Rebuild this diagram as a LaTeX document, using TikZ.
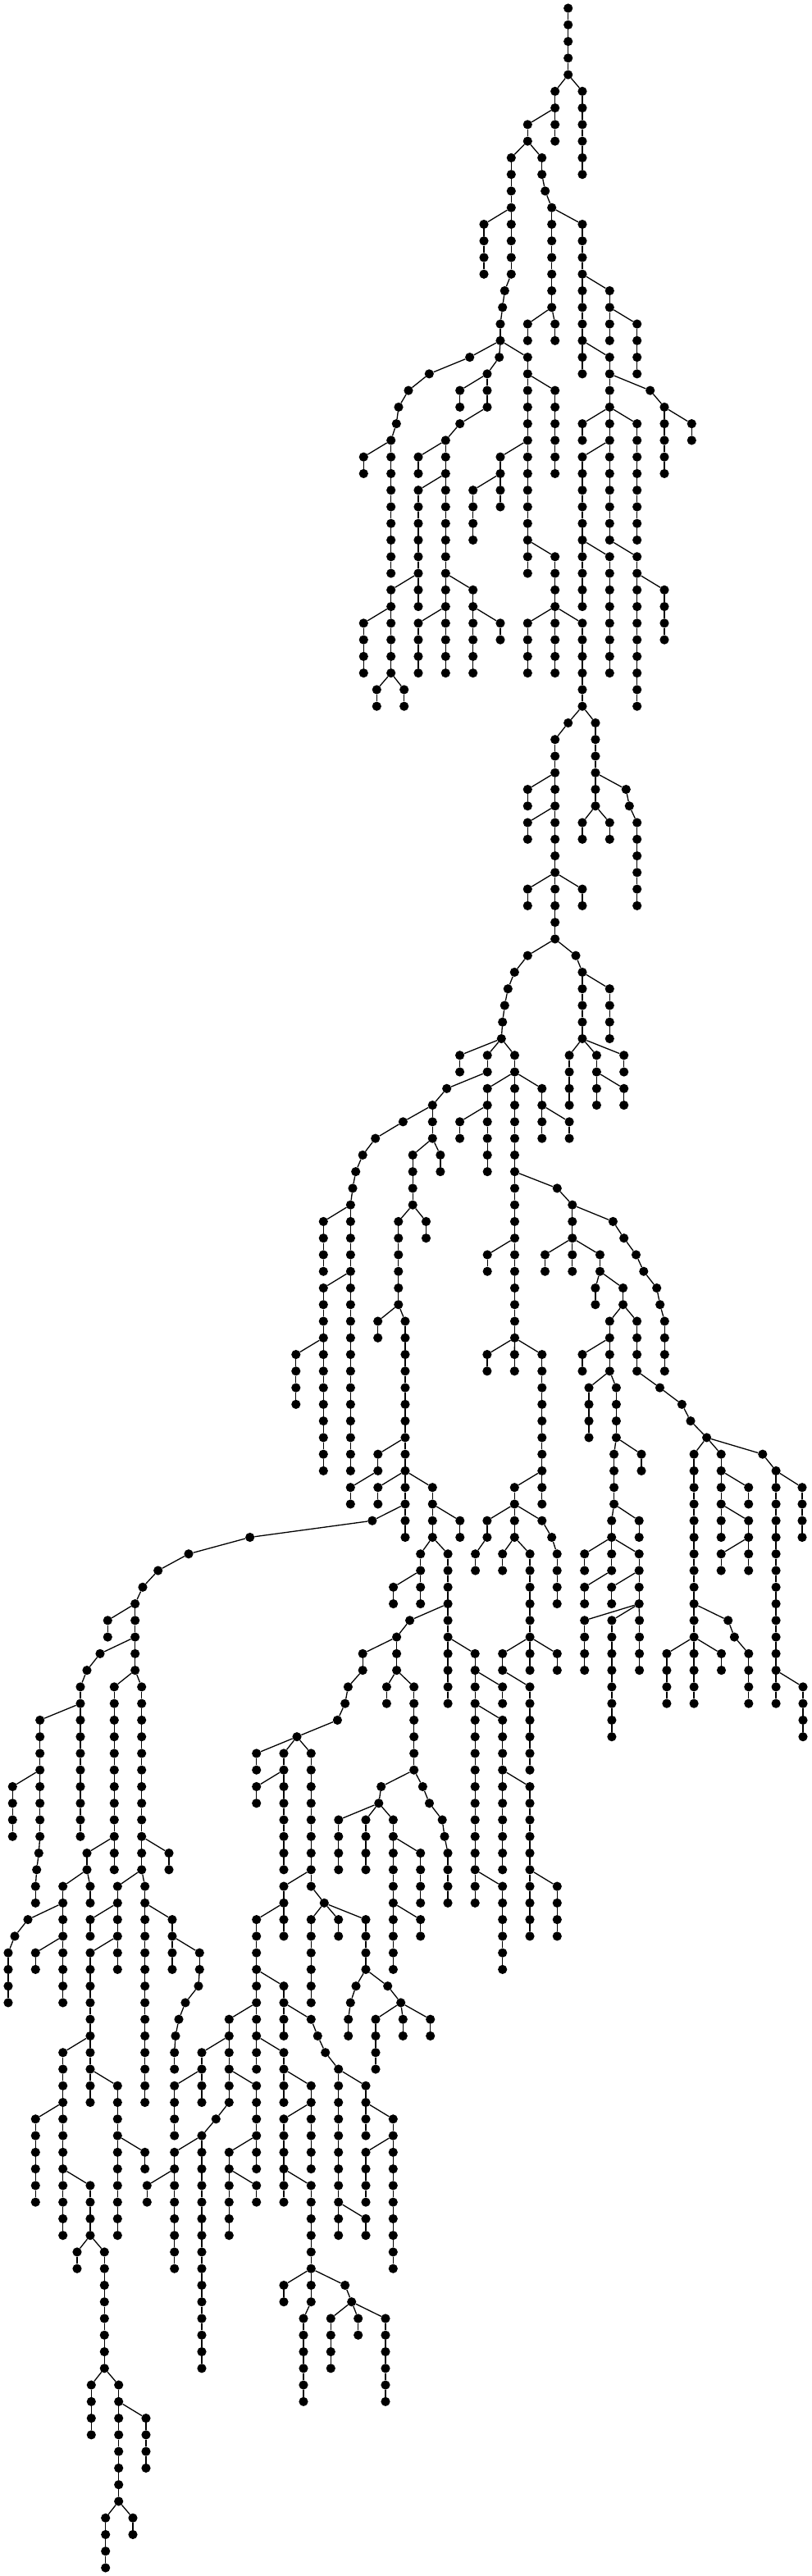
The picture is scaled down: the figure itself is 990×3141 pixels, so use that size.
\documentclass[tikz,border=0pt]{standalone}
\tikzset{
  dot/.style={circle,fill=black,draw=none,inner sep=0pt,minimum size=11.2pt},
  edge/.style={draw=black,line width=1.3pt}
}
% chain name, parent chain, x, first level, last level
\newcommand\chn[5]{%
  \foreach \lv in {#4,...,#5}{%
    \pgfmathtruncatemacro\prevlv{\lv-1}%
    \node[dot] (#1-\lv) at (#3,{10+20.266*\lv}) {};%
    \ifnum\lv=#4\relax
      \draw[edge] (#2-\prevlv) -- (#1-\lv);%
    \else
      \draw[edge] (#1-\prevlv) -- (#1-\lv);%
    \fi
  }%
}
\begin{document}
\begin{tikzpicture}[x=1pt,y=-1pt]
\fill[white] (0,0) rectangle (990,3141);
\useasboundingbox (0,0) rectangle (990,3141);
\node[dot] (r-0) at (692.7,10) {};
\chn{r}{r}{692.7}{1}{4}
\chn{a}{r}{676.7}{5}{8}
\chn{b}{r}{710}{5}{10}
\chn{c}{a}{643.3}{7}{8}
\chn{d}{c}{623.3}{9}{16}
\chn{d}{d}{615.3}{17}{17}
\chn{d}{d}{612.7}{18}{18}
\chn{d}{d}{610}{19}{20}
\chn{e}{c}{660.7}{9}{10}
\chn{e}{e}{664.7}{11}{11}
\chn{e}{e}{672.7}{12}{18}
\chn{f}{d}{590}{13}{16}
\chn{g}{e}{710}{13}{22}
\chn{h}{e}{643.3}{19}{20}
\chn{i}{e}{676.7}{19}{20}
\chn{j}{g}{743.3}{17}{20}
\chn{k}{j}{776.7}{19}{22}
\chn{l}{g}{743.3}{21}{24}
\chn{m}{l}{792.7}{23}{23}
\chn{m}{m}{810}{24}{28}
\chn{n}{m}{843.3}{25}{26}
\chn{o}{l}{710}{25}{26}
\chn{p}{l}{743.3}{25}{32}
\chn{q}{l}{776.7}{25}{32}
\chn{s}{p}{710}{27}{36}
\chn{t}{s}{743.3}{33}{40}
\chn{u}{p}{776.7}{33}{42}
\chn{v}{u}{810}{35}{38}
% left of level 20
\chn{aa}{d}{572.7}{21}{21}
\chn{aa}{aa}{523.3}{22}{22}
\chn{aa}{aa}{498}{23}{23}
\chn{aa}{aa}{486}{24}{24}
\chn{aa}{aa}{483.3}{25}{25}
\chn{aa}{aa}{476.7}{26}{34}
\chn{ab}{aa}{443.3}{27}{28}
\chn{ac}{d}{608.7}{21}{21}
\chn{ac}{ac}{594}{22}{24}
\chn{ad}{ac}{560.7}{23}{24}
\chn{ae}{ac}{560.7}{25}{25}
\chn{ae}{ae}{543.3}{26}{40}
\chn{af}{ae}{510}{27}{28}
\chn{ag}{ae}{510}{29}{36}
\chn{ah}{ag}{476.7}{35}{40}
\chn{ai}{ah}{443.3}{37}{40}
\chn{aj}{ah}{459.3}{41}{42}
\chn{ak}{ah}{492.7}{41}{42}
\chn{al}{ae}{576.7}{35}{40}
\chn{am}{ae}{510}{37}{40}
\chn{an}{al}{610}{37}{38}
\chn{ao}{d}{643.3}{21}{34}
\chn{ap}{ao}{676.7}{23}{28}
\chn{aq}{ao}{610}{27}{30}
\chn{ar}{aq}{576.7}{29}{32}
\chn{as}{ao}{676.7}{33}{40}
\chn{at}{as}{643.3}{37}{40}
\chn{au}{as}{710}{37}{42}
% levels 43-62
\chn{av}{au}{692.7}{43}{43}
\chn{av}{av}{676.7}{44}{56}
\chn{aw}{av}{643.3}{47}{48}
\chn{ax}{av}{643.3}{49}{50}
\chn{ay}{av}{643.3}{53}{54}
\chn{az}{av}{710}{53}{54}
\chn{ba}{au}{726}{43}{48}
\chn{bb}{ba}{710}{49}{50}
\chn{bc}{ba}{743.3}{49}{50}
\chn{bd}{ba}{763.3}{47}{47}
\chn{bd}{bd}{767.3}{48}{48}
\chn{bd}{bd}{776.7}{49}{54}
\chn{be}{av}{643.3}{57}{57}
\chn{be}{be}{627.3}{58}{58}
\chn{be}{be}{619.3}{59}{59}
\chn{be}{be}{615.3}{60}{60}
\chn{be}{be}{612.7}{61}{61}
\chn{be}{be}{611.3}{62}{62}
\chn{bf}{av}{702}{57}{57}
\chn{bf}{bf}{710}{58}{62}
\chn{bg}{bf}{743.3}{59}{62}
% levels 63-
\chn{bh}{be}{560.6}{63}{64}
\chn{bi}{be}{594.2}{63}{64}
\chn{bj}{be}{627.5}{63}{80}
\chn{bk}{bf}{694.1}{63}{66}
\chn{bl}{bf}{727.4}{63}{66}
\chn{bm}{bf}{760.7}{63}{64}
\chn{bn}{bl}{760.7}{65}{66}
\chn{bo}{bi}{544.7}{65}{65}
\chn{bo}{bo}{527.3}{66}{68}
\chn{bp}{bo}{491.4}{67}{67}
\chn{bp}{bp}{457.7}{68}{68}
\chn{bp}{bp}{442.2}{69}{69}
\chn{bp}{bp}{433.7}{70}{70}
\chn{bp}{bp}{430}{71}{71}
\chn{bp}{bp}{427.4}{72}{88}
\chn{bq}{bp}{394.3}{73}{76}
\chn{br}{bp}{394.3}{77}{88}
\chn{bs}{br}{360.8}{81}{84}
\chn{bt}{bo}{503.2}{69}{72}
\chn{bu}{bo}{536.9}{69}{70}
\chn{bv}{bt}{485.8}{73}{78}
\chn{bw}{bt}{519.5}{73}{74}
\chn{bx}{bv}{460.7}{79}{80}
\chn{by}{bv}{494}{79}{92}
\chn{bz}{by}{460.8}{87}{88}
\chn{ca}{bz}{427.3}{89}{90}
\chn{cb}{by}{460.8}{89}{90}
\chn{cc}{by}{527.3}{89}{92}
\chn{cd}{cc}{560.8}{91}{92}
\chn{cf}{cc}{512.7}{93}{96}
\chn{cg}{cf}{479.6}{95}{96}
\chn{ch}{cc}{546.1}{93}{102}
\chn{ci}{ch}{499.6}{97}{97}
\chn{ci}{ci}{483.6}{98}{100}
\chn{cj}{ci}{442.2}{99}{100}
\chn{cj}{cj}{424.4}{101}{101}
\chn{cj}{cj}{420.7}{102}{102}
\chn{cj}{cj}{411.4}{103}{103}
\chn{cj}{cj}{362}{104}{104}
\chn{ck}{ci}{471.4}{101}{102}
\chn{cl}{ci}{504.7}{101}{106}
\chn{cm}{cl}{464.7}{107}{107}
\chn{cm}{cm}{461.8}{108}{108}
\chn{cn}{cm}{412.8}{109}{112}
\chn{co}{cm}{446}{109}{112}
\chn{cp}{cm}{479.4}{109}{118}
\chn{cq}{cp}{512.7}{111}{114}
\chn{cr}{cp}{512.7}{115}{116}
\chn{cs}{cl}{515.4}{107}{107}
\chn{cs}{cs}{523.5}{108}{108}
\chn{cs}{cs}{539.2}{109}{109}
\chn{cs}{cs}{542}{110}{110}
\chn{cs}{cs}{546}{111}{114}
\chn{ct}{ch}{579.2}{99}{114}
\chn{cu}{ct}{612.7}{101}{102}
\chn{cv}{ct}{612.7}{103}{112}
\chn{cw}{ct}{612.7}{113}{118}
\chn{cx}{cv}{646}{107}{116}
\chn{cy}{cx}{679.3}{113}{116}
% centre-right
\chn{da}{bj}{594.2}{65}{70}
\chn{db}{da}{560.6}{67}{68}
\chn{dc}{bj}{660.8}{65}{68}
\chn{dd}{dc}{694.1}{67}{68}
\chn{de}{bj}{679.3}{71}{71}
\chn{de}{de}{697.8}{72}{76}
\chn{df}{bj}{594.2}{75}{76}
\chn{dg}{de}{664.5}{75}{76}
\chn{dh}{de}{731.5}{75}{76}
\chn{di}{dh}{725.9}{77}{78}
\chn{dj}{dh}{759.6}{77}{78}
\chn{dk}{dj}{743.3}{79}{80}
\chn{dl}{dj}{776.6}{79}{82}
\chn{dm}{dk}{710}{81}{82}
\chn{dn}{dk}{743.3}{81}{82}
\chn{do}{de}{747.4}{73}{73}
\chn{do}{do}{760.7}{74}{74}
\chn{do}{do}{775.5}{75}{75}
\chn{do}{do}{784.8}{76}{76}
\chn{do}{do}{800.7}{77}{77}
\chn{do}{do}{804.7}{78}{78}
\chn{do}{do}{810.3}{79}{82}
\chn{ea}{bj}{593.9}{81}{82}
\chn{eb}{bj}{627.3}{81}{82}
\chn{ec}{bj}{660.8}{81}{90}
\chn{ed}{ec}{627.3}{89}{92}
\chn{ee}{ed}{593.9}{91}{92}
\chn{ef}{ed}{660.8}{91}{91}
\chn{ef}{ef}{672.7}{92}{92}
\chn{ef}{ef}{679.2}{93}{96}
\chn{eg}{ee}{579.6}{93}{94}
\chn{eh}{ed}{612.7}{93}{94}
\chn{ei}{ed}{646.1}{93}{100}
\chn{ej}{ei}{612.7}{99}{100}
\chn{ek}{ei}{679.3}{99}{100}
\chn{el}{ej}{646}{101}{106}
\chn{em}{dn}{718}{83}{86}
\chn{en}{dn}{751.4}{83}{86}
\chn{eo}{en}{748.6}{87}{90}
\chn{ep}{en}{782}{87}{88}
\chn{eq}{eo}{745.7}{91}{94}
\chn{er}{eo}{779.2}{91}{92}
\chn{es}{eq}{712.7}{93}{94}
\chn{et}{eq}{779.2}{93}{96}
\chn{eu}{eq}{712.7}{95}{96}
\chn{ev}{et}{745.7}{95}{96}
\chn{ew}{et}{712.7}{97}{100}
\chn{ex}{et}{745.9}{97}{104}
\chn{ey}{et}{779.6}{97}{100}
\chn{ez}{dl}{804.5}{83}{83}
\chn{ez}{ez}{831.4}{84}{84}
\chn{ez}{ez}{842}{85}{85}
\chn{ez}{ez}{861.6}{86}{86}
\chn{fa}{ez}{846.1}{87}{102}
\chn{fb}{fa}{812.9}{99}{102}
\chn{fc}{fa}{879.5}{99}{100}
\chn{fd}{fa}{887.7}{97}{97}
\chn{fd}{fd}{895.4}{98}{98}
\chn{fd}{fd}{912.8}{99}{102}
\chn{fe}{ez}{879.2}{87}{92}
\chn{ff}{fe}{912.7}{89}{90}
\chn{fg}{fe}{912.7}{91}{94}
\chn{fh}{fg}{879.2}{93}{94}
\chn{fi}{ez}{929.8}{87}{87}
\chn{fi}{fi}{946.1}{88}{102}
\chn{fj}{fi}{978}{89}{92}
\chn{fk}{fi}{979}{101}{104}
% long left branch
\chn{ce}{by}{453.9}{91}{91}
\chn{ce}{ce}{304.7}{92}{92}
\chn{ce}{ce}{230}{93}{93}
\chn{ce}{ce}{192.7}{94}{94}
\chn{ce}{ce}{174}{95}{95}
\chn{ce}{ce}{164.7}{96}{100}
\chn{ga}{ce}{131.3}{97}{98}
\chn{gb}{ce}{122}{99}{99}
\chn{gb}{gb}{106}{100}{100}
\chn{gb}{gb}{98}{101}{110}
\chn{gc}{gb}{48.7}{103}{110}
\chn{gc}{gc}{47.3}{111}{111}
\chn{gc}{gc}{44.7}{112}{112}
\chn{gc}{gc}{43.3}{113}{114}
\chn{gd}{gc}{15.3}{107}{110}
\chn{ge}{ce}{139.3}{101}{112}
\chn{gf}{ce}{172.7}{101}{112}
\chn{gg}{ge}{106}{111}{112}
\chn{gh}{gg}{76.7}{113}{120}
\chn{gi}{gg}{110}{113}{114}
\chn{gj}{gf}{206}{111}{112}
\chn{gk}{gf}{143.3}{113}{118}
\chn{gl}{gf}{176.7}{113}{126}
\chn{gm}{gh}{34}{115}{115}
\chn{gm}{gm}{18}{116}{116}
\chn{gm}{gm}{10}{117}{120}
\chn{gn}{gh}{43.3}{117}{118}
\chn{go}{gk}{110}{115}{116}
\chn{gp}{gk}{110}{117}{124}
\chn{gq}{gp}{76.7}{123}{134}
\chn{gr}{gp}{110}{125}{126}
\chn{gs}{gp}{143.3}{125}{134}
\chn{gt}{gs}{176.7}{129}{130}
\chn{gu}{gq}{43.3}{127}{132}
\chn{gv}{gq}{110}{131}{134}
\chn{gw}{gv}{94}{135}{136}
\chn{gx}{gv}{127.3}{135}{142}
\chn{gy}{gx}{111.3}{143}{146}
\chn{gz}{gx}{144.7}{143}{150}
\chn{ha}{gz}{178}{145}{148}
\chn{hb}{gz}{128.7}{151}{154}
\chn{hc}{gz}{162}{151}{152}
\chn{hd}{gl}{210}{115}{118}
\chn{he}{hd}{243.3}{117}{118}
\chn{he}{he}{242}{119}{119}
\chn{he}{he}{226}{120}{120}
\chn{he}{he}{218}{121}{121}
\chn{he}{he}{214}{122}{122}
\chn{he}{he}{212.7}{123}{124}
% subtree under cj-104
\chn{ia}{cj}{312.7}{105}{106}
\chn{ib}{cj}{346}{105}{112}
\chn{ic}{cj}{379.3}{105}{113}
\chn{id}{ib}{312.7}{107}{108}
\chn{ie}{ic}{346}{113}{116}
\chn{ic}{ic}{395.3}{114}{114}
\chn{if}{ie}{312.7}{115}{124}
\chn{ig}{if}{346}{119}{122}
\chn{ih}{if}{279.3}{121}{126}
\chn{ih}{ih}{263.3}{127}{127}
\chn{ih}{ih}{246}{128}{142}
\chn{ii}{ih}{246}{123}{126}
\chn{ij}{ii}{212.7}{125}{128}
\chn{ik}{ih}{312.7}{125}{130}
\chn{il}{ih}{212.7}{129}{136}
\chn{im}{il}{179.3}{131}{132}
\chn{in}{ik}{279.3}{129}{134}
\chn{io}{in}{312.7}{131}{132}
\chn{ip}{if}{346}{123}{126}
\chn{iq}{ip}{379.3}{125}{130}
\chn{ir}{iq}{346}{127}{132}
\chn{is}{ir}{379.3}{131}{138}
\chn{is}{is}{370}{139}{144}
\chn{it}{is}{346}{137}{138}
\chn{iu}{is}{420.7}{137}{137}
\chn{iu}{iu}{428.7}{138}{138}
\chn{iv}{iu}{403.3}{139}{142}
\chn{iw}{iu}{436.7}{139}{140}
\chn{ix}{iu}{470}{139}{144}
\chn{iy}{ig}{379.3}{121}{121}
\chn{iy}{iy}{387.3}{122}{122}
\chn{iy}{iy}{396.7}{123}{123}
\chn{iy}{iy}{412.7}{124}{134}
\chn{iz}{iy}{446}{125}{128}
\chn{ja}{iz}{479.3}{127}{136}
\chn{jb}{ja}{446}{129}{132}
\chn{jc}{iy}{446}{133}{134}
\chn{jd}{ic}{379.3}{115}{120}
\chn{je}{ic}{412.7}{115}{116}
\chn{jf}{ic}{446}{115}{118}
\chn{jg}{jf}{434}{119}{119}
\chn{jg}{jg}{427.3}{120}{120}
\chn{jg}{jg}{424.7}{121}{122}
\chn{jh}{jf}{472.7}{119}{119}
\chn{jh}{jh}{488.7}{120}{120}
\chn{ji}{jh}{458}{121}{124}
\chn{jj}{jh}{491.3}{121}{122}
\chn{jk}{jh}{524.7}{121}{122}
\end{tikzpicture}
\end{document}
